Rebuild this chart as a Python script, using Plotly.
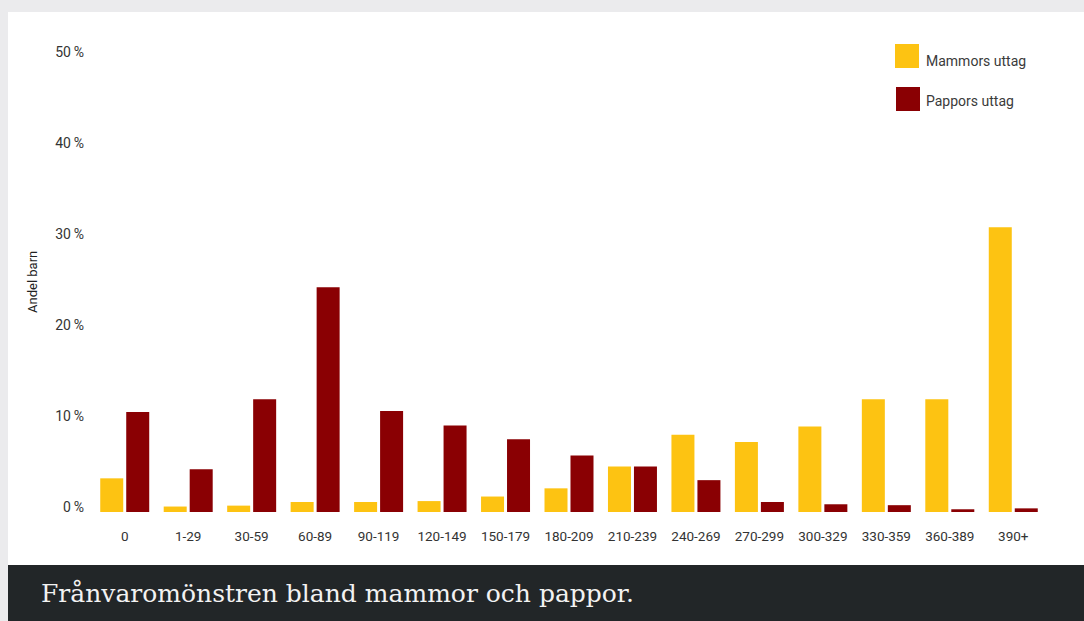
import plotly.graph_objects as go

# Frånvaro i dagar, andel barn per grupp (%)
kategorier = ["0", "1-29", "30-59", "60-89", "90-119", "120-149", "150-179", "180-209",
              "210-239", "240-269", "270-299", "300-329", "330-359", "360-389", "390+"]
mammors_uttag = [3.7, 0.6, 0.7, 1.1, 1.1, 1.2, 1.7, 2.6, 5.0, 8.5, 7.7, 9.4, 12.4, 12.4, 31.3]
pappors_uttag = [11.0, 4.7, 12.4, 24.7, 11.1, 9.5, 8.0, 6.2, 5.0, 3.5, 1.1, 0.85, 0.75, 0.3, 0.4]
y_ticks = [0, 10, 20, 30, 40, 50]
y_ticktext = [f"{v}\u2009%" for v in y_ticks]

serie_namn = ["Mammors uttag", "Pappors uttag"]
GUL = "#FDC312"
ROD = "#8A0003"
MORK = "#222628"
GRA = "#EBEBED"

W, H = 1084, 621
ML, MR, MT, MB = 93, 39, 39, 109
PW, PH = W - ML - MR, H - MT - MB

SANS = "Roboto, sans-serif"


def px_x(px):
    return (px - ML) / PW


def px_y(py):
    return (H - MB - py) / PH


fig = go.Figure()
fig.add_trace(go.Bar(x=kategorier, y=mammors_uttag, name=serie_namn[0],
                     marker=dict(color=GUL, line=dict(width=0))))
fig.add_trace(go.Bar(x=kategorier, y=pappors_uttag, name=serie_namn[1],
                     marker=dict(color=ROD, line=dict(width=0))))

shapes = [
    # page frame: grey border, white panel, dark caption band
    dict(type="rect", xref="paper", yref="paper", x0=px_x(0), x1=px_x(W), y0=px_y(0), y1=px_y(H),
         fillcolor=GRA, line=dict(width=0), layer="below"),
    dict(type="rect", xref="paper", yref="paper", x0=px_x(8), x1=px_x(W), y0=px_y(12), y1=px_y(565),
         fillcolor="white", line=dict(width=0), layer="below"),
    dict(type="rect", xref="paper", yref="paper", x0=px_x(8), x1=px_x(W), y0=px_y(565), y1=px_y(H),
         fillcolor=MORK, line=dict(width=0), layer="below"),
    # legend swatches
    dict(type="rect", xref="paper", yref="paper", x0=px_x(895), x1=px_x(919), y0=px_y(44), y1=px_y(68),
         fillcolor=GUL, line=dict(width=0)),
    dict(type="rect", xref="paper", yref="paper", x0=px_x(896), x1=px_x(920), y0=px_y(87), y1=px_y(111),
         fillcolor=ROD, line=dict(width=0)),
]

annotations = [
    dict(text=serie_namn[0], xref="paper", yref="paper", x=px_x(924), y=px_y(61),
         xanchor="left", yanchor="middle", showarrow=False,
         font=dict(family=SANS, size=14, color="#3a3a3a")),
    dict(text=serie_namn[1], xref="paper", yref="paper", x=px_x(924), y=px_y(101),
         xanchor="left", yanchor="middle", showarrow=False,
         font=dict(family=SANS, size=14, color="#3a3a3a")),
    dict(text="Andel barn", xref="paper", yref="paper", x=px_x(32), y=px_y(282),
         xanchor="center", yanchor="middle", textangle=-90, showarrow=False,
         font=dict(family=SANS, size=13, color="#222")),
    dict(text="Frånvaromönstren bland mammor och pappor.", xref="paper", yref="paper",
         x=px_x(39), y=px_y(593), xanchor="left", yanchor="middle", showarrow=False,
         font=dict(family="DejaVu Serif, Liberation Serif, serif", size=25, color="#f2f2f2")),
]

fig.update_layout(
    width=W, height=H,
    margin=dict(l=ML, r=MR, t=MT, b=MB, pad=0),
    paper_bgcolor="white", plot_bgcolor="rgba(0,0,0,0)",
    barmode="group", bargap=0.181, bargroupgap=0.115,
    showlegend=False,
    shapes=shapes, annotations=annotations,
    xaxis=dict(range=[-0.5, 14.5], showgrid=False, zeroline=False, showline=False,
               ticks="", tickfont=dict(family=SANS, size=13.5, color="#333"),
               ticklabelstandoff=14, fixedrange=True),
    yaxis=dict(range=[0, PH / 9.1], tickvals=y_ticks, ticktext=y_ticktext,
               showgrid=False, zeroline=False, showline=False, ticks="",
               tickfont=dict(family=SANS, size=14, color="#333"),
               ticklabelstandoff=8, ticklabelshift=-5, fixedrange=True),
)

fig.write_html("out.html", config=dict(displayModeBar=False, responsive=False))
